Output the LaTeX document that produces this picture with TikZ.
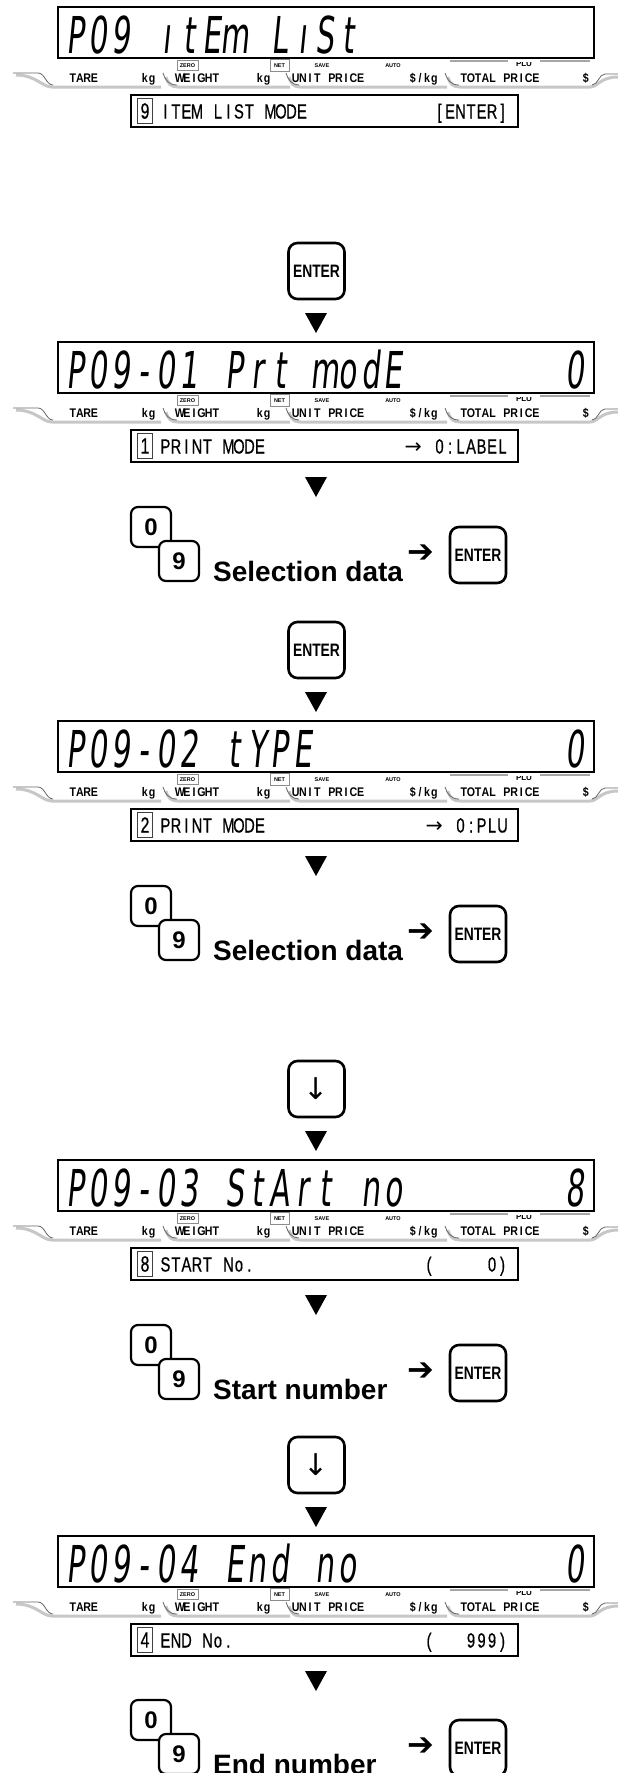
\documentclass[tikz,border=0pt]{standalone}
\usepackage{fontspec}
\setmainfont{Liberation Sans}
\newfontfamily\lcdfont{DejaVu Sans}[FakeStretch=0.58,FakeSlant=0.1]
\newfontfamily\gothfont{Liberation Sans}[FakeStretch=0.72,FakeBold=0.6]
\newfontfamily\stripfontfam{Liberation Sans}[FakeStretch=0.85]
\newfontfamily\keyfontfam{Liberation Sans}[FakeStretch=0.77]
\newfontfamily\djv{DejaVu Sans}
\makeatletter
\newcommand\monorow[2]{\@tfor\mono@c:=#2\do{\makebox[#1][c]{\mono@c}}}
\makeatother
\tikzset{
 lcdbox/.style={draw=black, line width=1.8pt, fill=white, minimum width=536pt, minimum height=51pt, inner sep=0pt},
 lcdtext/.style={anchor=base west, inner sep=0pt, font=\lcdfont\fontsize{50.8}{51}\selectfont},
 itembox/.style={draw=black, line width=1.6pt, fill=white, minimum width=387pt, minimum height=32pt, inner sep=0pt},
 digitbox/.style={draw=black!75, line width=0.9pt, minimum width=15pt, minimum height=25pt, inner sep=0pt, font=\gothfont\fontsize{22}{22}\selectfont},
 itemlab/.style={inner sep=0pt, font=\gothfont\fontsize{20.5}{20.5}\selectfont},
 striplab/.style={anchor=base west, inner sep=0pt, font=\stripfontfam\bfseries\fontsize{12.5}{12.5}\selectfont},
 tinylab/.style={inner sep=0pt, font=\bfseries\fontsize{5.5}{5.5}\selectfont},
 tinybox/.style={tinylab, draw=black!45, line width=0.7pt, minimum height=10pt},
 stripgray/.style={draw=black!22, line width=3pt},
 stripdark/.style={draw=black!60, line width=0.8pt},
 plubar/.style={draw=black!35, line width=2.5pt},
 digitkey/.style={draw=black, line width=2.2pt, rounded corners=7pt, fill=white, minimum width=40pt, minimum height=40pt, inner sep=0pt, font=\bfseries\fontsize{24}{24}\selectfont},
 enterkey/.style={draw=black, line width=2.6pt, rounded corners=9pt, fill=white, minimum width=56pt, minimum height=56pt, inner sep=0pt, font=\keyfontfam\bfseries\fontsize{18}{18}\selectfont},
 downkey/.style={enterkey, font=\djv\fontsize{30}{30}\selectfont},
 grouplab/.style={anchor=base west, inner sep=0pt, font=\bfseries\fontsize{28}{28}\selectfont},
 bigarrow/.style={inner sep=0pt, font=\djv\fontsize{32}{32}\selectfont},
}
% flow triangle, top edge at y=#1
\newcommand\flowtri[1]{\fill (305,#1) -- (327,#1) -- (316,#1+20) -- cycle;}
% display strip below an LCD whose top is at #2
\newcommand\lcdstrip[2]{%
 \draw[stripgray] (16,#2+68) .. controls (36,#2+68) and (42,#2+80) .. (52,#2+80) -- (161,#2+80);
 \draw[stripdark] (13,#2+66) -- (38,#2+66) .. controls (45,#2+66) and (46,#2+78) .. (53,#2+78);
 \draw[stripgray] (166,#2+70) .. controls (168,#2+77) and (171,#2+80) .. (178,#2+80) -- (290,#2+80);
 \draw[stripdark] (163,#2+66) .. controls (165,#2+73) and (169,#2+78) .. (177,#2+78);
 \draw[stripgray] (289,#2+70) .. controls (291,#2+77) and (294,#2+80) .. (300,#2+80) -- (447,#2+80);
 \draw[stripdark] (286,#2+66) .. controls (288,#2+73) and (292,#2+78) .. (299,#2+78);
 \draw[stripgray] (448,#2+70) .. controls (450,#2+77) and (453,#2+80) .. (460,#2+80) -- (590,#2+80) .. controls (598,#2+80) and (600,#2+70) .. (618,#2+70);
 \draw[stripdark] (445,#2+66) .. controls (447,#2+73) and (451,#2+78) .. (459,#2+78);
 \draw[stripdark] (592,#2+78) .. controls (598,#2+78) and (599,#2+67) .. (605,#2+67) -- (618,#2+67);
 \node[striplab] (tare#1) at (69,#2+75) {\monorow{7.2pt}{TARE}};
 \node[striplab] (kga#1) at (141,#2+75) {\monorow{7.2pt}{kg}};
 \node[striplab] (weight#1) at (176,#2+75) {\monorow{7.2pt}{WEIGHT}};
 \node[striplab] (kgb#1) at (256,#2+75) {\monorow{7.2pt}{kg}};
 \node[striplab] (unit#1) at (292,#2+75) {\monorow{7.2pt}{UNIT~PRICE}};
 \node[striplab] (perkg#1) at (409,#2+75) {\monorow{7.2pt}{\$/kg}};
 \node[striplab] (total#1) at (460,#2+75) {\monorow{7.2pt}{TOTAL~PRICE}};
 \node[striplab] (dol#1) at (582,#2+75) {\monorow{7.2pt}{\$}};
 \node[tinybox, minimum width=21pt] (zero#1) at (187.5,#2+58.5) {ZERO};
 \node[tinybox, minimum width=19pt, minimum height=12pt] (net#1) at (279.5,#2+58.5) {NET};
 \node[tinylab] (save#1) at (322,#2+59) {SAVE};
 \node[tinylab] (auto#1) at (393,#2+59) {AUTO};
}
% #1 id, #2 top, #3 lcd string, #4 value, #5 boxed digit, #6 label, #7 right text
\newcommand\lcdblock[7]{%
 \begin{scope}
  \clip (500,#2+55) rectangle (550,#2+70);
  \node[inner sep=0pt, font=\bfseries\fontsize{8}{8}\selectfont] (plu#1) at (524,#2+57) {PLU};
 \end{scope}
 \draw[plubar] (450,#2+54) -- (508,#2+54);
 \draw[plubar] (540,#2+54) -- (590,#2+54);
 \node[lcdbox] (lcd#1) at (326,#2+25.5) {};
 \node[lcdtext] (lcdt#1) at (64,#2+46) {\monorow{22.7pt}{#3}};
 \node[lcdtext] (lcdv#1) at (563.4,#2+46) {\monorow{22.7pt}{#4}};
 \lcdstrip{#1}{#2}
 \node[itembox] (item#1) at (324.5,#2+104) {};
 \node[digitbox] (dig#1) at (145,#2+104) {#5};
 \node[itemlab, anchor=base west] (iteml#1) at (160,#2+111.5) {\monorow{10.5pt}{#6}};
 \node[itemlab, anchor=base east] (itemr#1) at (508,#2+111.5) {#7};
}
% #1 id, #2 y of bottom of the triangle above, #3 label
\newcommand\keygroup[3]{%
 \node[digitkey] (kz#1) at (151,#2+30) {0};
 \node[digitkey] (kn#1) at (179,#2+64) {9};
 \node[grouplab] (gl#1) at (213,#2+84) {#3};
 \node[bigarrow] (ga#1) at (421,#2+57) {➔};
 \node[enterkey] (ge#1) at (478,#2+58) {ENTER};
}
\begin{document}
\begin{tikzpicture}[x=1pt,y=-1pt]
\fill[white] (0,0) rectangle (618,1773);
\useasboundingbox (0,0) rectangle (618,1773);

\lcdblock{1}{7}{P09~ıtEm~LıSt}{~}{9}{ITEM~LIST~MODE}{\monorow{10.5pt}{[ENTER]}}

\node[enterkey] (enterA) at (316.5,271) {ENTER};
\flowtri{313}

\lcdblock{2}{342}{P09-01~Prt~modE}{0}{1}{PRINT~MODE}{\makebox[21pt]{\djv →}\monorow{10.5pt}{~0:LABEL}}
\flowtri{477}
\keygroup{2}{497}{Selection data}

\node[enterkey] (enterC) at (316.5,650) {ENTER};
\flowtri{692}

\lcdblock{3}{721}{P09-02~tYPE}{0}{2}{PRINT~MODE}{\makebox[21pt]{\djv →}\monorow{10.5pt}{~0:PLU}}
\flowtri{856}
\keygroup{3}{876}{Selection data}

\node[downkey] (downD) at (316.5,1089) {↓};
\flowtri{1131}

\lcdblock{4}{1160}{P09-03~StArt~no}{8}{8}{START~No.}{\monorow{10.5pt}{(~~~~~0)}}
\flowtri{1295}
\keygroup{4}{1315}{Start number}

\node[downkey] (downG) at (316.5,1465) {↓};
\flowtri{1507}

\lcdblock{5}{1536}{P09-04~End~no}{0}{4}{END~No.}{\monorow{10.5pt}{(~~~999)}}
\flowtri{1671}
\keygroup{5}{1690}{End number}
\end{tikzpicture}
\end{document}
